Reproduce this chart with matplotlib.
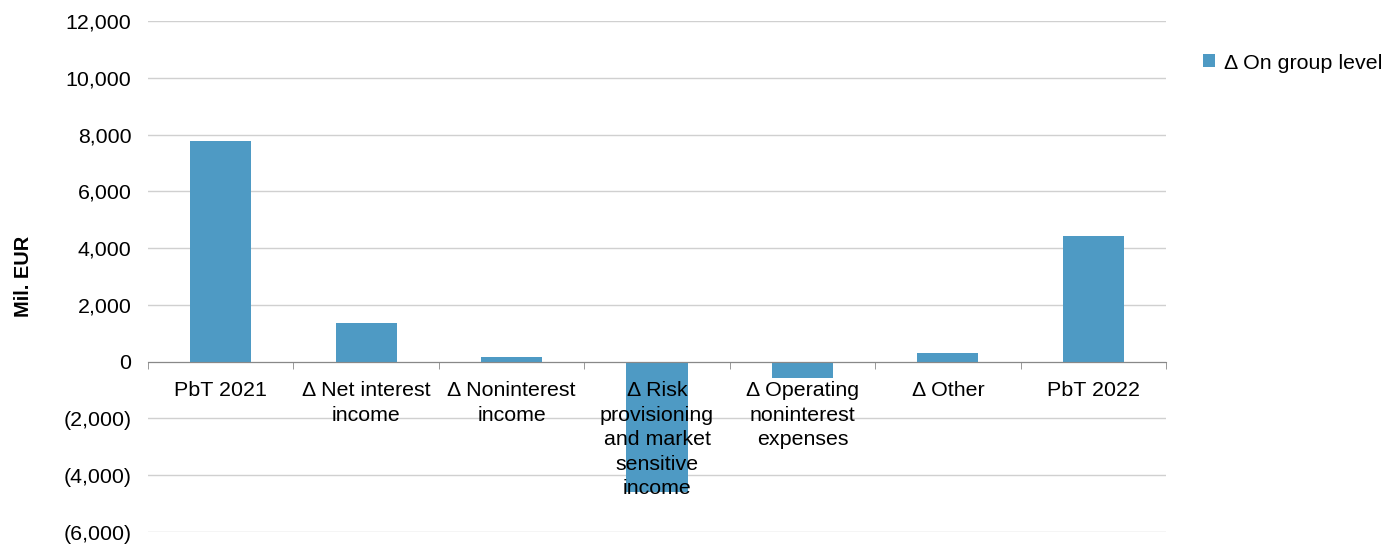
import matplotlib as mpl
import matplotlib.pyplot as plt
from matplotlib.ticker import FuncFormatter, FixedLocator

categories = ['PbT 2021', 'Δ Net interest\nincome', 'Δ Noninterest\nincome',
              'Δ Risk\nprovisioning\nand market\nsensitive\nincome',
              'Δ Operating\nnoninterest\nexpenses', 'Δ Other', 'PbT 2022']
values = [7760, 1370, 170, -4590, -590, 300, 4435]
series_name = 'Δ On group level'


def fmt(v, pos):
    if v < 0:
        return '({:,.0f})'.format(-v)
    return '{:,.0f}'.format(v)


def main():
    mpl.rcParams['font.family'] = ['Liberation Sans', 'DejaVu Sans']
    mpl.rcParams['font.size'] = 15.4

    fig = plt.figure(figsize=(13.95, 5.45), dpi=100)
    ax = fig.add_axes([148 / 1395, 1 - 532 / 545, (1166 - 148) / 1395, (532 - 21) / 545])

    x = list(range(len(categories)))
    ax.bar(x, values, width=0.42, color='#4e9ac4', zorder=2, label=series_name)

    ax.set_xlim(-0.5, len(categories) - 0.5)
    ax.set_ylim(-6000, 12000)
    ax.set_yticks(range(-6000, 12001, 2000))
    ax.yaxis.set_major_formatter(FuncFormatter(fmt))
    ax.grid(True, axis='y', color='#d0d0d0', linewidth=1)
    ax.tick_params(axis='y', length=0, pad=12)

    ax.set_xticks(x)
    ax.set_xticklabels(categories)
    ax.xaxis.set_minor_locator(FixedLocator([i - 0.5 for i in range(len(categories) + 1)]))
    ax.tick_params(axis='x', which='major', length=0, pad=14)
    ax.tick_params(axis='x', which='minor', length=5, color='#888888', direction='out')

    for s in ['left', 'right', 'top']:
        ax.spines[s].set_visible(False)
    ax.spines['bottom'].set_position(('data', 0))
    ax.spines['bottom'].set_color('#888888')
    ax.spines['bottom'].set_zorder(3)

    ax.yaxis.set_zorder(0.5)
    ax.xaxis.set_zorder(3)

    ax.set_ylabel('Mil. EUR', fontweight='bold', fontsize=14.4, labelpad=22)

    ax.legend(loc='center left', bbox_to_anchor=(1184 / 1395, 1 - 63 / 545),
              bbox_transform=fig.transFigure, frameon=False, handlelength=0.55,
              handleheight=0.55, handletextpad=0.4, fontsize=15.4)

    fig.canvas.draw()
    for lbl in ax.get_xticklabels():
        lbl.set_linespacing(1.37)

    fig.savefig('out.png')


if __name__ == "__main__":
    main()
